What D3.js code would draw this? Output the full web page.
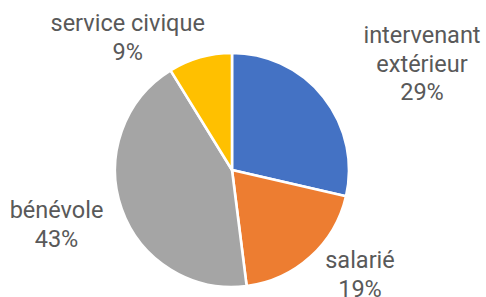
<!DOCTYPE html>
<html><head><meta charset="utf-8">
<script src="https://cdn.jsdelivr.net/npm/d3@7"></script>
<style>html,body{margin:0;padding:0;background:#fff;}svg{display:block;}</style>
</head><body>
<svg id="chart" width="486" height="297"></svg>
<script>
const categories = ["intervenant extérieur", "salarié", "bénévole", "service civique"];
const labelLines = [["intervenant", "extérieur"], ["salarié"], ["bénévole"], ["service civique"]];
const values = [28.6, 19.4, 43.2, 8.8];
const colors = ["#4472C4", "#ED7D31", "#A5A5A5", "#FFC000"];

// layout (text anchor of first line, relative to pie centre)
const layout = { cx: 232, cy: 170, r: 117, fontSize: 23.5, lineH: 28.8 };
const labelPos = [
  { dx: 190, dy: -127.3 },
  { dx: 128, dy: 98.3 },
  { dx: -175.5, dy: 48.3 },
  { dx: -104.3, dy: -139.3 }
];

const svg = d3.select("#chart");
const g = svg.append("g").attr("transform", `translate(${layout.cx},${layout.cy})`);
const data = categories.map((c, i) => ({ c, v: values[i], i }));
const pie = d3.pie().value(d => d.v).sort(null);
const arc = d3.arc().innerRadius(0).outerRadius(layout.r);
const total = d3.sum(values);

g.selectAll("path").data(pie(data)).join("path")
  .attr("d", arc)
  .attr("fill", d => colors[d.data.i])
  .attr("stroke", "#fff")
  .attr("stroke-width", 2.6)
  .attr("stroke-linejoin", "round");

const lbl = g.selectAll("text.lbl").data(data).join("text")
  .attr("class", "lbl")
  .attr("text-anchor", "middle")
  .attr("font-family", "Roboto, sans-serif")
  .attr("font-size", layout.fontSize)
  .attr("fill", "#595959")
  .attr("x", d => labelPos[d.i].dx)
  .attr("y", d => labelPos[d.i].dy);

lbl.each(function(d) {
  const t = d3.select(this);
  const lines = labelLines[d.i].concat([Math.round(d.v / total * 100) + "%"]);
  lines.forEach((s, k) => {
    t.append("tspan").attr("x", labelPos[d.i].dx).attr("dy", k === 0 ? 0 : layout.lineH).text(s);
  });
});
</script>
</body></html>
